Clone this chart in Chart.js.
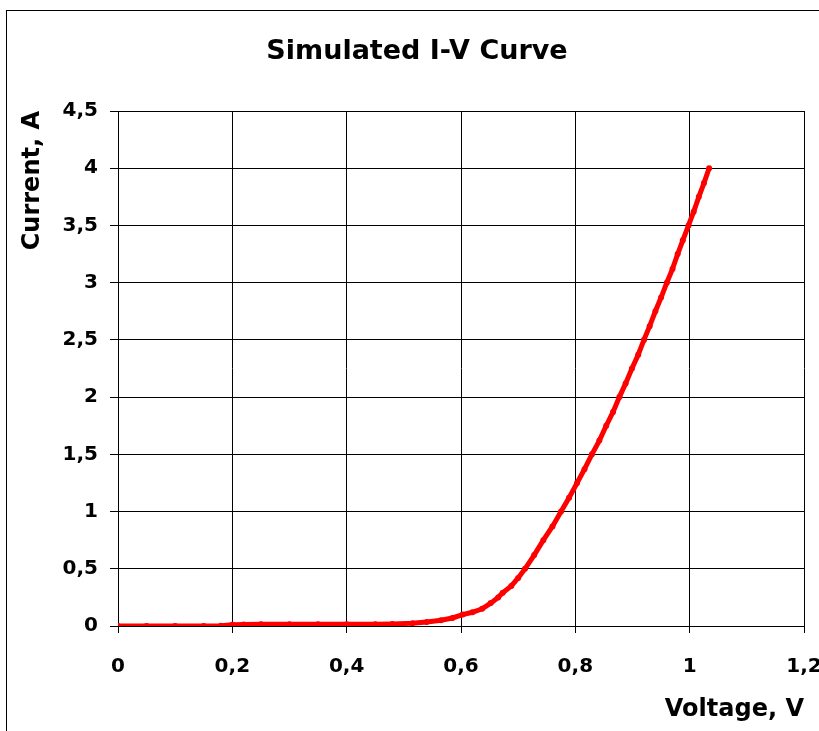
<!DOCTYPE html>
<html>
<head>
<meta charset="utf-8">
<script src="https://cdn.jsdelivr.net/npm/chart.js@4.4.0/dist/chart.umd.min.js"></script>
<style>
  html, body { margin: 0; padding: 0; background: #fff; overflow: hidden; }
  #wrap { position: relative; width: 819px; height: 731px; overflow: hidden; }
  #frame { position: absolute; left: 6px; top: 10px; width: 900px; height: 900px; border: 1px solid #000; }
  #ivChart { position: absolute; left: 0; top: 0; }
</style>
</head>
<body>
<div id="wrap">
  <div id="frame"></div>
  <canvas id="ivChart" width="840" height="731"></canvas>
</div>
<script>
// values
const voltage = [0, 0.05, 0.1, 0.15, 0.18, 0.2, 0.22, 0.25, 0.3, 0.35, 0.4, 0.45, 0.48, 0.515, 0.54, 0.565,
  0.585, 0.603, 0.62, 0.637, 0.652, 0.665, 0.673, 0.688, 0.7, 0.712, 0.728, 0.744, 0.76, 0.775, 0.789,
  0.803, 0.816, 0.829, 0.842, 0.854, 0.866, 0.877, 0.888, 0.899, 0.91, 0.92, 0.93, 0.94, 0.95, 0.96,
  0.97, 0.979, 0.988, 0.998, 1.007, 1.016, 1.025, 1.034];
const current = [0, 0, 0, 0, 0.003, 0.01, 0.013, 0.015, 0.015, 0.015, 0.015, 0.015, 0.018, 0.025, 0.035, 0.05,
  0.07, 0.1, 0.12, 0.15, 0.2, 0.25, 0.29, 0.35, 0.42, 0.5, 0.62, 0.75, 0.87, 1.0, 1.12,
  1.25, 1.37, 1.5, 1.62, 1.75, 1.87, 2.0, 2.12, 2.25, 2.37, 2.5, 2.62, 2.75, 2.87, 3.0,
  3.12, 3.25, 3.37, 3.5, 3.62, 3.75, 3.87, 4.0];
const xTickLabels = ['0', '0,2', '0,4', '0,6', '0,8', '1', '1,2'];
const yTickLabels = ['0', '0,5', '1', '1,5', '2', '2,5', '3', '3,5', '4', '4,5'];
const chartTitle = 'Simulated I-V Curve';

const FONT = 'DejaVu Sans';

// title drawn by hand so it can sit off-centre like the original
const titlePlugin = {
  id: 'ivTitle',
  afterDraw(chart) {
    const ctx = chart.ctx;
    ctx.save();
    ctx.font = 'bold 27px "' + FONT + '"';
    ctx.fillStyle = '#000';
    ctx.textAlign = 'center';
    ctx.textBaseline = 'middle';
    ctx.fillText(chartTitle, 417, 52);
    ctx.restore();
  }
};

const points = voltage.map((v, i) => ({ x: v, y: current[i] }));

new Chart(document.getElementById('ivChart').getContext('2d'), {
  type: 'line',
  data: {
    datasets: [{
      data: points,
      borderColor: '#ff0000',
      backgroundColor: '#ff0000',
      borderWidth: 5,
      pointRadius: 3,
      pointBorderWidth: 0,
      tension: 0,
      fill: false
    }]
  },
  options: {
    responsive: false,
    animation: false,
    layout: { padding: { left: 0, right: 36, top: 111, bottom: 0 } },
    plugins: {
      legend: { display: false },
      tooltip: { enabled: false }
    },
    scales: {
      x: {
        type: 'linear',
        min: 0,
        max: 1.2,
        afterFit: (scale) => {
          scale.height = 105;
          scale.paddingLeft = 0;
          scale.paddingRight = 0;
        },
        ticks: {
          stepSize: 0.2,
          color: '#000',
          padding: 22,
          maxRotation: 0,
          font: { family: FONT, size: 20, weight: 'bold' },
          callback: (value, index) => xTickLabels[index]
        },
        grid: { color: '#000', lineWidth: 1, tickLength: 7, tickColor: '#000' },
        border: { color: '#000', width: 1 },
        title: {
          display: true,
          text: 'Voltage, V',
          align: 'end',
          color: '#000',
          padding: { top: 0, bottom: 7 },
          font: { family: FONT, size: 24, weight: 'bold' }
        }
      },
      y: {
        min: 0,
        max: 4.5,
        afterFit: (scale) => { scale.width = 118; },
        ticks: {
          stepSize: 0.5,
          color: '#000',
          padding: 12,
          font: { family: FONT, size: 20, weight: 'bold' },
          callback: (value, index) => yTickLabels[index]
        },
        grid: { color: '#000', lineWidth: 1, tickLength: 8, tickColor: '#000' },
        border: { color: '#000', width: 1 },
        title: {
          display: true,
          text: 'Current, A',
          align: 'end',
          color: '#000',
          padding: { top: 18, bottom: 0 },
          font: { family: FONT, size: 24, weight: 'bold' }
        }
      }
    }
  },
  plugins: [titlePlugin]
});
</script>
</body>
</html>
